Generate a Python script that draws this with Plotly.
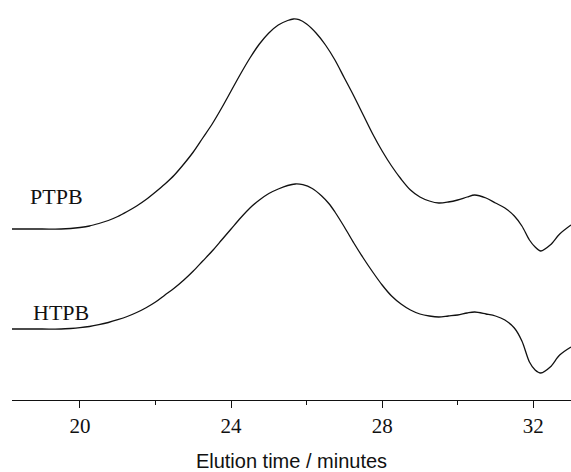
import plotly.graph_objects as go

# Elution time (minutes) and detector signal (arbitrary units, traces offset)
ptpb_time = [18.2, 19.0, 19.5, 19.75, 20.0, 20.25, 20.5, 20.75, 21.0, 21.25, 21.5, 21.75,
             22.0, 22.25, 22.5, 22.75, 23.0, 23.25, 23.5, 23.75, 24.0, 24.25, 24.5,
             24.75, 25.0, 25.25, 25.5, 25.65, 25.8, 26.0, 26.25, 26.5, 26.75, 27.0,
             27.25, 27.5, 27.75, 28.0, 28.25, 28.5, 28.75, 29.0, 29.25, 29.5, 29.75,
             30.0, 30.25, 30.45, 30.75, 31.0, 31.25, 31.5, 31.7, 31.9, 32.05, 32.2,
             32.45, 32.7, 33.0]
ptpb = [171, 171, 171, 171.5, 172.5, 174, 176.5, 179.5, 183.5, 188.5, 194, 200.5,
        208, 216, 225, 236, 248, 262, 276, 292, 309, 326, 342,
        356, 367, 375, 379.5, 381, 380.3, 376, 367, 355, 340, 322,
        304, 285, 266, 249, 234, 221, 210, 203, 199, 197, 198,
        200, 203, 205, 202, 197, 192, 184, 174, 160, 153, 149,
        155, 166, 175]

htpb_time = [18.2, 19.0, 19.5, 19.75, 20.0, 20.25, 20.5, 20.75, 21.0, 21.25, 21.5, 21.75,
             22.0, 22.25, 22.5, 22.75, 23.0, 23.25, 23.5, 23.75, 24.0, 24.25, 24.5,
             24.75, 25.0, 25.25, 25.5, 25.7, 25.9, 26.15, 26.4, 26.6, 26.75, 27.0,
             27.25, 27.5, 27.75, 28.0, 28.25, 28.5, 28.75, 29.0, 29.25, 29.5, 29.75,
             30.0, 30.25, 30.45, 30.75, 31.0, 31.25, 31.5, 31.7, 31.9, 32.05, 32.2,
             32.45, 32.7, 33.0]
htpb = [71, 71, 71, 71.5, 72.3, 73.5, 75.3, 77.5, 80.3, 83.5, 87.5, 92.3,
        98, 105, 112, 120, 129, 139, 149, 160, 171, 182, 192,
        200, 206.5, 211, 214.5, 216, 215.3, 211.5, 204, 196, 188, 173,
        157, 142, 128, 115, 104, 96, 90, 86, 84, 83, 84,
        85, 87, 88, 86, 84, 80, 72, 59, 38, 30, 27,
        33, 45, 53]

series_names = ["PTPB", "HTPB"]
label_x = [19.38, 19.5]
label_y = [204, 88]

major_ticks = [20, 24, 28, 32]
minor_ticks = [22, 26, 30]
x_range = [18.2, 33.0]
y_range = [0, 400]

fig = go.Figure()
for name, xs, vals in zip(series_names, [ptpb_time, htpb_time], [ptpb, htpb]):
    fig.add_trace(go.Scatter(x=xs, y=vals, mode="lines", name=name,
                             line=dict(color="#111111", width=1.3, shape="spline", smoothing=0.9),
                             showlegend=False, hoverinfo="skip"))

for name, lx, ly in zip(series_names, label_x, label_y):
    fig.add_annotation(x=lx, y=ly, xref="x", yref="y", text=name, showarrow=False,
                       font=dict(family="Liberation Serif", size=22, color="#111111"),
                       xanchor="center", yanchor="middle")

fig.update_xaxes(range=x_range, showline=True, linecolor="#111111", linewidth=1.4,
                 ticks="outside", ticklen=7, tickwidth=1.4, tickcolor="#111111",
                 tickvals=major_ticks, ticktext=[str(t) for t in major_ticks],
                 tickfont=dict(family="Liberation Serif", size=21, color="#111111"),
                 minor=dict(tickvals=minor_ticks, ticks="outside", ticklen=4,
                            tickwidth=1.4, tickcolor="#111111"),
                 showgrid=False, zeroline=False,
                 title=dict(text="Elution time / minutes",
                            font=dict(family="Liberation Sans", size=20, color="#111111"),
                            standoff=16))
fig.update_yaxes(range=y_range, visible=False, showgrid=False, zeroline=False)

fig.update_layout(width=571, height=472, margin=dict(l=12, r=0, t=0, b=72),
                  plot_bgcolor="white", paper_bgcolor="white")

fig.write_html("out.html")
